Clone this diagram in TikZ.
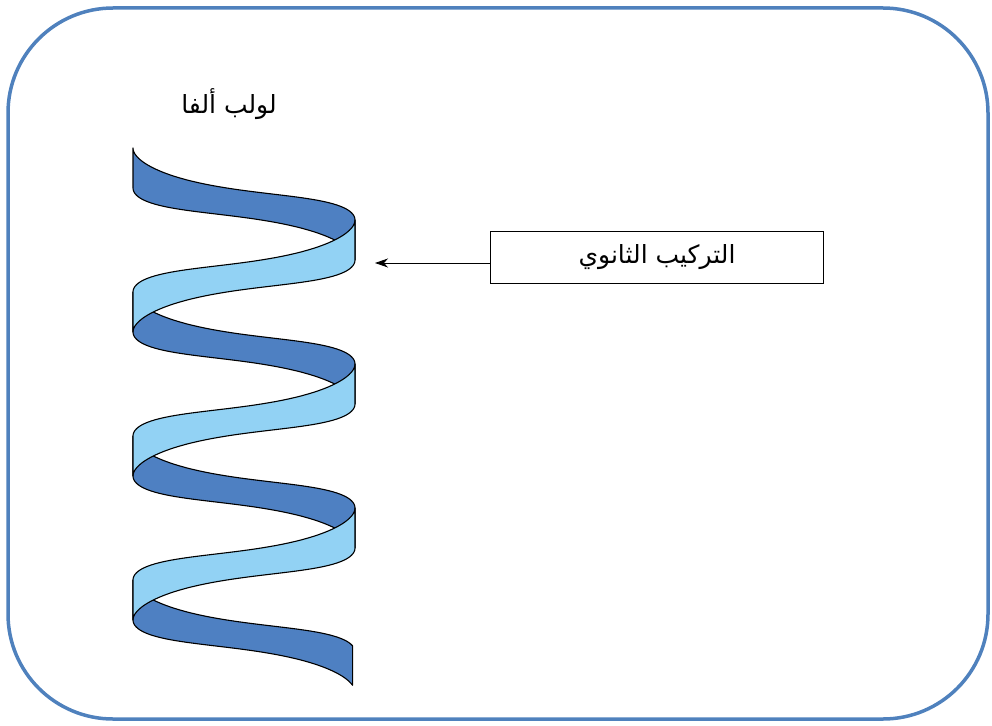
\documentclass[tikz,border=0pt]{standalone}
\usepackage{fontspec}
\usepackage{tikz}
\usetikzlibrary{arrows.meta}
\newfontfamily\arabicfont[Script=Arabic]{DejaVu Sans}
\TeXXeTstate=1

\definecolor{framecol}{RGB}{79,129,189}
\definecolor{darkband}{RGB}{78,128,194}
\definecolor{lightband}{RGB}{146,210,244}

% helix: x position, centre line and band height along the angle t (degrees)
\tikzset{
  declare function={hx(\t)=244-111*cos(\t); hc(\t)=168+0.4*\t+4*sin(2*\t); hw(\t)=27+13*cos(\t)*cos(\t);},
  band/.style={draw=black, line width=1.1pt, line join=round},
  labelbox/.style={draw=black, line width=1pt, minimum width=333pt, minimum height=52pt, inner sep=0pt},
  arfont/.style={font=\arabicfont\fontsize{25}{30}\selectfont},
}

% one half turn of the band, from angle #2 to #3
\newcommand{\halfturn}[3]{%
  \filldraw[band, fill=#1]
    plot[domain=#2:#3, samples=50, variable=\t] ({hx(\t)},{hc(\t)-hw(\t)/2})
    -- plot[domain=#3:#2, samples=50, variable=\t] ({hx(\t)},{hc(\t)+hw(\t)/2})
    -- cycle;}

\begin{document}
\begin{tikzpicture}[x=1pt,y=-1pt]
\useasboundingbox (0,0) rectangle (992,725);

% frame
\draw[framecol, line width=3.5pt, rounded corners=105pt] (8,8) rectangle (988,719);

% back half turns (dark) first
\foreach \a in {0,360,720} {
  \halfturn{darkband}{\a}{\a+180}
}
\halfturn{darkband}{1080}{1248}

% front half turns (light) on top
\foreach \a in {180,540,900} {
  \halfturn{lightband}{\a}{\a+180}
}

% labels
\node[arfont] (alpha) at (229,104) {\beginR لولب ألفا\endR};
\node[labelbox, arfont] (sec) at (657,257.5) {\beginR التركيب الثانوي\endR};

\coordinate (tip) at (375,263);
\draw[-{Stealth[length=13pt,width=9pt,inset=4pt]}, line width=0.9pt] (sec.west |- tip) -- (tip);

\end{tikzpicture}
\end{document}
